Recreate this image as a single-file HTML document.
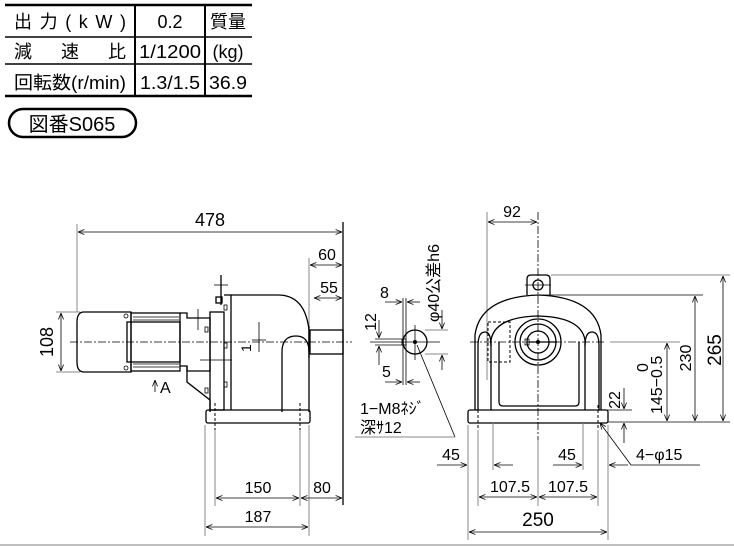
<!DOCTYPE html>
<html><head><meta charset="utf-8"><style>
html,body{margin:0;padding:0;background:#fff;width:734px;height:546px;overflow:hidden}
svg{display:block}
text{font-family:"Liberation Sans","Noto Sans CJK JP",sans-serif;fill:#000}
.l{stroke:#000;stroke-width:1.3;fill:none}
.t{stroke:#000;stroke-width:0.8;fill:none}
.g{stroke:#888;stroke-width:1;fill:none}
.c{stroke:#000;stroke-width:0.8;stroke-dasharray:8 2 2 2;fill:none}
.d{stroke:#000;stroke-width:1;stroke-dasharray:3 2;fill:none}
.n{font-size:16px}
</style></head><body>
<svg width="734" height="546" viewBox="0 0 734 546">
<defs>
<marker id="a" viewBox="0 0 10 10" refX="10" refY="5" markerWidth="8" markerHeight="8" orient="auto-start-reverse"><path d="M0,1 L10,5 L0,9" fill="none" stroke="#000" stroke-width="1.2"/></marker>
</defs>
<!-- table -->
<g>
<line x1="5" y1="5" x2="252" y2="5" stroke="#000" stroke-width="2.5"/>
<line x1="5" y1="37" x2="252" y2="37" stroke="#000" stroke-width="1.5"/>
<line x1="5" y1="64" x2="252" y2="64" stroke="#000" stroke-width="1.5"/>
<line x1="5" y1="96" x2="252" y2="96" stroke="#000" stroke-width="2.5"/>
<line x1="135" y1="5" x2="135" y2="96" stroke="#000" stroke-width="2"/>
<line x1="205" y1="5" x2="205" y2="96" stroke="#000" stroke-width="2"/>
<text x="14" y="28" font-size="18" textLength="112" lengthAdjust="spacing">出力(kW)</text>
<text x="14" y="58" font-size="18" textLength="112" lengthAdjust="spacing">減　速　比</text>
<text x="14" y="89" font-size="18" textLength="112" lengthAdjust="spacingAndGlyphs">回転数(r/min)</text>
<text x="170" y="28" font-size="18" text-anchor="middle">0.2</text>
<text x="170" y="58" font-size="18" text-anchor="middle" textLength="62" lengthAdjust="spacingAndGlyphs">1/1200</text>
<text x="170" y="89" font-size="18" text-anchor="middle" textLength="60" lengthAdjust="spacingAndGlyphs">1.3/1.5</text>
<text x="228" y="28" font-size="18" text-anchor="middle">質量</text>
<text x="228" y="58" font-size="18" text-anchor="middle">(kg)</text>
<text x="228" y="89" font-size="18" text-anchor="middle" textLength="38" lengthAdjust="spacingAndGlyphs">36.9</text>
<rect x="9" y="109" width="127" height="28" rx="14" fill="none" stroke="#000" stroke-width="2.5"/>
<text x="72" y="131" font-size="20" text-anchor="middle">図番S065</text>
</g>
<!-- side view -->
<g>
<line class="g" x1="77" y1="224" x2="77" y2="312"/>
<line class="l" x1="343" y1="222" x2="343" y2="505"/>
<line class="t" x1="78" y1="232" x2="342" y2="232" marker-start="url(#a)" marker-end="url(#a)"/>
<text font-size="18" x="210" y="226" text-anchor="middle">478</text>
<line class="g" x1="309" y1="258" x2="309" y2="330"/>
<line class="t" x1="310" y1="265" x2="342" y2="265" marker-start="url(#a)" marker-end="url(#a)"/>
<text class="n" x="327" y="260" text-anchor="middle">60</text>
<line class="t" x1="314" y1="298" x2="342" y2="298" marker-start="url(#a)" marker-end="url(#a)"/>
<text class="n" x="329" y="293" text-anchor="middle">55</text>
<!-- 108 -->
<line class="g" x1="56" y1="312" x2="80" y2="312"/>
<line class="g" x1="56" y1="372" x2="80" y2="372"/>
<line class="t" x1="61" y1="313" x2="61" y2="371" marker-start="url(#a)" marker-end="url(#a)"/>
<text font-size="18" transform="translate(53,342) rotate(-90)" text-anchor="middle">108</text>
<!-- motor -->
<path class="l" d="M84,312 L131,312 L131,372 L84,372 Q77,372 77,362 L77,322 Q77,312 84,312Z"/>
<rect class="l" x="131" y="313" width="49" height="58"/>
<rect class="l" x="127" y="322" width="53" height="40" fill="#fff"/>
<g class="t"><line x1="133" y1="317" x2="179" y2="317"/><line x1="133" y1="320" x2="179" y2="320"/><line x1="133" y1="364" x2="179" y2="364"/><line x1="133" y1="367" x2="179" y2="367"/></g>
<circle class="t" cx="126" cy="316" r="2"/><circle class="t" cx="126" cy="368" r="2"/>
<path class="l" d="M180,313 L187,313 L187,318 L210,318 L210,371 L187,371 L187,366 L180,366"/>
<path class="l" d="M187,366 L187,382 L210,400 L210,412"/>
<rect class="l" x="210" y="312" width="14" height="98"/>
<path class="l" d="M224,295 L231,295 L231,410"/>
<path class="l" d="M231,295 L278,295 Q305,295 309,330 L309,412"/>
<path class="l" d="M282,412 L282,352 Q282,336 296,336 Q309,336 309,352"/>
<line class="l" x1="221" y1="275" x2="221" y2="305"/>
<line class="t" x1="214" y1="285" x2="228" y2="285"/>
<rect class="l" x="216" y="297" width="6" height="6"/>
<rect class="l" x="206" y="410" width="104" height="13" rx="2"/>
<rect class="l" x="310" y="330" width="33" height="24"/>
<line class="l" x1="309" y1="326" x2="309" y2="358" stroke-width="2.5"/>
<g class="t"><rect x="205" y="327" width="3" height="5"/><rect x="224" y="343" width="3" height="5"/><rect x="224" y="382" width="3" height="5"/><rect x="205" y="388" width="3" height="5"/><rect x="224" y="305" width="3" height="5"/></g>
<line class="c" x1="70" y1="342" x2="352" y2="342"/>
<line class="t" x1="198" y1="309" x2="198" y2="330"/>
<line class="t" x1="200" y1="360" x2="232" y2="360"/>
<line class="t" x1="259" y1="322" x2="259" y2="352"/><line class="t" x1="252" y1="340" x2="266" y2="340"/>
<text font-size="14" transform="translate(251,352) rotate(-90)">1</text>
<text font-size="16" x="160" y="393">A</text><line class="t" x1="155" y1="392" x2="155" y2="380" marker-end="url(#a)"/>
<line class="d" x1="215" y1="403" x2="215" y2="430"/><line class="d" x1="300" y1="403" x2="300" y2="430"/>
<g class="g"><line x1="205" y1="425" x2="205" y2="536"/><line x1="215" y1="430" x2="215" y2="506"/><line x1="300" y1="430" x2="300" y2="506"/><line x1="309" y1="425" x2="309" y2="536"/></g>
<line class="t" x1="216" y1="498" x2="299" y2="498" marker-start="url(#a)" marker-end="url(#a)"/>
<line class="t" x1="301" y1="498" x2="342" y2="498" marker-start="url(#a)" marker-end="url(#a)"/>
<line class="t" x1="206" y1="527" x2="308" y2="527" marker-start="url(#a)" marker-end="url(#a)"/>
<text class="n" x="258" y="493" text-anchor="middle">150</text>
<text class="n" x="322" y="493" text-anchor="middle">80</text>
<text class="n" x="258" y="522" text-anchor="middle">187</text>
</g>
<!-- shaft end detail -->
<g>
<circle class="l" cx="415" cy="342" r="12"/>
<circle cx="415" cy="342" r="2" fill="#000"/>
<rect class="t" x="402" y="339" width="4" height="6"/>
<line class="t" x1="370" y1="342" x2="440" y2="342"/>
<line class="t" x1="415" y1="325" x2="415" y2="360"/>
<line class="t" x1="403" y1="298" x2="403" y2="385"/><line class="t" x1="406" y1="298" x2="406" y2="385"/>
<line class="t" x1="385" y1="302" x2="402" y2="302" marker-end="url(#a)"/><line class="t" x1="420" y1="302" x2="407" y2="302" marker-end="url(#a)"/>
<text class="n" x="380" y="298">8</text>
<line class="t" x1="385" y1="382" x2="402" y2="382" marker-end="url(#a)"/><line class="t" x1="420" y1="382" x2="407" y2="382" marker-end="url(#a)"/>
<text class="n" x="382" y="377">5</text>
<line class="t" x1="375" y1="339" x2="402" y2="339"/><line class="t" x1="375" y1="345" x2="402" y2="345"/>
<line class="t" x1="379" y1="320" x2="379" y2="338" marker-end="url(#a)"/><line class="t" x1="379" y1="365" x2="379" y2="346" marker-end="url(#a)"/>
<text class="n" transform="translate(376,322) rotate(-90)" text-anchor="middle">12</text>
<line class="g" x1="425" y1="330" x2="448" y2="330"/><line class="g" x1="425" y1="354" x2="448" y2="354"/>
<line class="t" x1="442" y1="310" x2="442" y2="329" marker-end="url(#a)"/><line class="t" x1="442" y1="370" x2="442" y2="355" marker-end="url(#a)"/>
<text font-size="16" transform="translate(439,322) rotate(-90)">φ40公差h6</text>
<line class="t" x1="417" y1="345" x2="455" y2="437"/>
<line class="g" x1="355" y1="437" x2="455" y2="437"/>
<text font-size="16" x="360" y="414">1−M8ﾈｼﾞ</text>
<text font-size="16" x="360" y="433">深ｻ12</text>
</g>
<!-- front view -->
<g>
<line class="g" x1="487" y1="212" x2="487" y2="380"/>
<line class="c" x1="538" y1="212" x2="538" y2="440"/>
<line class="t" x1="488" y1="222" x2="537" y2="222" marker-start="url(#a)" marker-end="url(#a)"/>
<text class="n" x="512" y="217" text-anchor="middle">92</text>
<path class="l" d="M527,295 L527,279 Q527,275 531,275 L546,275 Q550,275 550,279 L550,295"/>
<circle class="l" cx="538" cy="285" r="5"/>
<line class="t" x1="525" y1="285" x2="551" y2="285"/>
<path class="l" d="M475,410 L475,335 Q480,297 538,295 Q596,297 601,335 L601,410"/>
<path class="l" d="M491,410 L491,340 Q495,317 538,316 Q581,317 585,340 L585,410"/>
<path class="l" d="M478,410 L478,346 Q478,332 485,332 Q491,332 491,346"/>
<path class="l" d="M585,346 Q585,332 592,332 Q599,332 599,346 L599,410"/>
<path class="l" d="M499,342 L499,402 Q499,406 503,406 L575,406 Q579,406 579,402 L579,342"/>
<circle class="l" cx="538" cy="342" r="23"/><circle class="l" cx="538" cy="342" r="18"/><circle class="l" cx="538" cy="342" r="11"/>
<circle cx="538" cy="342" r="2" fill="#000"/>
<rect class="t" x="525" y="339" width="4" height="6"/>
<line class="l" x1="529" y1="342" x2="557" y2="342"/>
<rect class="d" x="488" y="322" width="22" height="40"/>
<line class="c" x1="470" y1="342" x2="606" y2="342"/>
<rect class="l" x="468" y="410" width="140" height="13" rx="2"/>
<g class="d"><line x1="478" y1="405" x2="478" y2="430"/><line x1="598" y1="405" x2="598" y2="430"/></g>
<!-- right dims -->
<line class="g" x1="551" y1="275" x2="730" y2="275"/>
<line class="t" x1="540" y1="295" x2="703" y2="295"/>
<line class="g" x1="610" y1="342" x2="680" y2="342"/>
<line class="t" x1="608" y1="422" x2="730" y2="422"/>
<line class="t" x1="604" y1="410" x2="632" y2="410"/>
<line class="t" x1="723" y1="276" x2="723" y2="421" marker-start="url(#a)" marker-end="url(#a)"/>
<line class="t" x1="695" y1="296" x2="695" y2="421" marker-start="url(#a)" marker-end="url(#a)"/>
<line class="t" x1="667" y1="343" x2="667" y2="421" marker-start="url(#a)" marker-end="url(#a)"/>
<line class="t" x1="624" y1="388" x2="624" y2="409" marker-end="url(#a)"/>
<line class="t" x1="624" y1="443" x2="624" y2="423" marker-end="url(#a)"/>
<text font-size="19" transform="translate(721,350) rotate(-90)" text-anchor="middle">265</text>
<text class="n" transform="translate(691,358) rotate(-90)" text-anchor="middle">230</text>
<text class="n" transform="translate(662,414) rotate(-90)">145−0.5</text>
<text class="n" transform="translate(648,372) rotate(-90)">0</text>
<text class="n" transform="translate(620,400) rotate(-90)" text-anchor="middle">22</text>
<!-- bottom dims -->
<g class="g"><line x1="468" y1="425" x2="468" y2="540"/><line x1="478" y1="430" x2="478" y2="506"/><line x1="493" y1="423" x2="493" y2="470"/><line x1="583" y1="423" x2="583" y2="470"/><line x1="538" y1="440" x2="538" y2="506"/><line x1="598" y1="430" x2="598" y2="506"/><line x1="608" y1="425" x2="608" y2="540"/></g>
<line class="t" x1="437" y1="465" x2="467" y2="465" marker-end="url(#a)"/><line class="t" x1="513" y1="465" x2="494" y2="465" marker-end="url(#a)"/>
<line class="t" x1="553" y1="465" x2="582" y2="465" marker-end="url(#a)"/><line class="t" x1="628" y1="465" x2="609" y2="465" marker-end="url(#a)"/>
<text class="n" x="451" y="460" text-anchor="middle">45</text>
<text class="n" x="567" y="460" text-anchor="middle">45</text>
<line class="t" x1="479" y1="497" x2="537" y2="497" marker-start="url(#a)" marker-end="url(#a)"/>
<line class="t" x1="539" y1="497" x2="597" y2="497" marker-start="url(#a)" marker-end="url(#a)"/>
<text class="n" x="510" y="492" text-anchor="middle">107.5</text>
<text class="n" x="568" y="492" text-anchor="middle">107.5</text>
<line class="t" x1="469" y1="532" x2="607" y2="532" marker-start="url(#a)" marker-end="url(#a)"/>
<text font-size="19" x="538" y="526" text-anchor="middle">250</text>
<line class="t" x1="631" y1="465" x2="600" y2="423" marker-end="url(#a)"/>
<line class="t" x1="631" y1="465" x2="700" y2="465"/>
<text class="n" x="636" y="460">4−φ15</text>
</g>
<line x1="0" y1="545" x2="734" y2="545" stroke="#aaa" stroke-width="1.5"/>
</svg>
</body></html>
